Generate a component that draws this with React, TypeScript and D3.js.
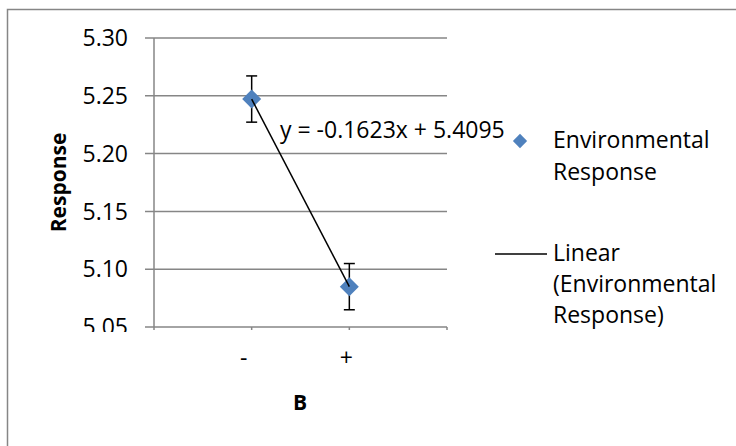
import React from "react";
import * as d3 from "d3";

const categories = ["-", "+"];
const xPositions = [1, 2];
const responseValues = [5.2472, 5.0849];
const errorValues = [0.02, 0.02];
const yTicks = [5.05, 5.1, 5.15, 5.2, 5.25, 5.3];
const xTicks = [0, 1, 2, 3];
const trendSlope = -0.1623;
const trendIntercept = 5.4095;
const equationLabel = "y = -0.1623x + 5.4095";
const seriesName = ["Environmental", "Response"];
const trendName = ["Linear", "(Environmental", "Response)"];

const FONT = "'Open Sans', sans-serif";
const GRID = "#868686";
const BLUE = "#4F81BD";

export default function App() {
  const W = 736, H = 446;
  const x = d3.scaleLinear().domain([0, 3]).range([154, 447]);
  const y = d3.scaleLinear().domain([5.05, 5.3]).range([327, 38]);
  const diamond = d3.symbol().type(d3.symbolDiamond2).size(230)();
  const legendDiamond = d3.symbol().type(d3.symbolDiamond2).size(130)();
  const trendLine = d3.line<number>().x((d) => x(d)).y((d) => y(trendSlope * d + trendIntercept));

  return (
    <svg width={W} height={H} style={{ position: "absolute", left: 0, top: 0, background: "#fff" }}>
      <defs>
        <clipPath id="ylab">
          <rect x={0} y={0} width={150} height={332} />
        </clipPath>
      </defs>
      <rect x={7.5} y={9.5} width={900} height={600} fill="#fff" stroke={GRID} strokeWidth={1.5} />
      {/* gridlines */}
      {yTicks.map((t) => (
        <line key={t} x1={145} x2={447} y1={y(t)} y2={y(t)} stroke={GRID} strokeWidth={1.5} />
      ))}
      {/* y axis */}
      <line x1={154} x2={154} y1={y(5.3)} y2={y(5.05)} stroke={GRID} strokeWidth={1.5} />
      {/* x axis ticks */}
      {xTicks.map((t) => (
        <line key={t} x1={x(t)} x2={x(t)} y1={y(5.05)} y2={y(5.05) + 3} stroke={GRID} strokeWidth={1.5} />
      ))}
      {/* y tick labels */}
      <g clipPath="url(#ylab)">
        {yTicks.map((t) => (
          <text key={t} x={128} y={y(t)} dy="0.36em" textAnchor="end" fontFamily={FONT} fontSize={23} fill="#000">
            {t.toFixed(2)}
          </text>
        ))}
      </g>
      {/* x tick labels */}
      {categories.map((c, i) => (
        <text key={c} x={x(xPositions[i]) + (i === 0 ? -8 : -3)} y={366} textAnchor="middle" fontFamily={FONT} fontSize={23} fill="#000">
          {c}
        </text>
      ))}
      {/* axis titles */}
      <text x={300} y={410} textAnchor="middle" fontFamily={FONT} fontSize={21} fontWeight="bold">B</text>
      <text transform={`translate(66,${(y(5.3) + y(5.05)) / 2}) rotate(-90)`} textAnchor="middle" fontFamily={FONT} fontSize={21} fontWeight="bold">
        Response
      </text>
      {/* error bars */}
      {responseValues.map((v, i) => {
        const cx = x(xPositions[i]);
        const e = errorValues[i];
        return (
          <g key={i} stroke="#000" strokeWidth={1.5}>
            <line x1={cx} x2={cx} y1={y(v + e)} y2={y(v - e)} />
            <line x1={cx - 5.5} x2={cx + 5.5} y1={y(v + e)} y2={y(v + e)} />
            <line x1={cx - 5.5} x2={cx + 5.5} y1={y(v - e)} y2={y(v - e)} />
          </g>
        );
      })}
      {/* markers */}
      {responseValues.map((v, i) => (
        <path key={i} d={diamond ?? ""} transform={`translate(${x(xPositions[i])},${y(v)})`} fill={BLUE} />
      ))}
      {/* trend line */}
      <path d={trendLine([1, 2]) ?? ""} fill="none" stroke="#000" strokeWidth={1.5} />
      <text x={280} y={138} fontFamily={FONT} fontSize={23} fill="#000">{equationLabel}</text>
      {/* legend */}
      <path d={legendDiamond ?? ""} transform="translate(520,141)" fill={BLUE} />
      {seriesName.map((s, i) => (
        <text key={s} x={553} y={148 + i * 32} fontFamily={FONT} fontSize={23} fill="#000">{s}</text>
      ))}
      <line x1={495} x2={547} y1={254} y2={254} stroke="#000" strokeWidth={1.5} />
      {trendName.map((s, i) => (
        <text key={s} x={553} y={261 + i * 31} fontFamily={FONT} fontSize={23} fill="#000">{s}</text>
      ))}
    </svg>
  );
}
